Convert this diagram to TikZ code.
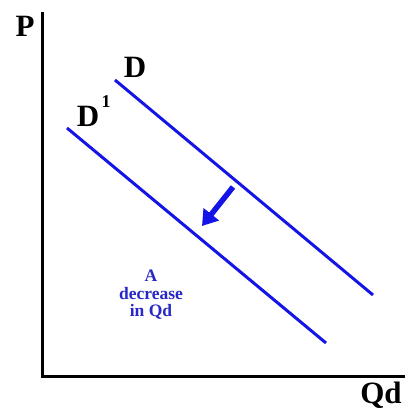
\documentclass[tikz,border=0pt]{standalone}
\usepackage{fontspec}
\setmainfont{Liberation Serif}
\usetikzlibrary{arrows.meta}
\definecolor{dblue}{RGB}{20,20,230}
\definecolor{tblue}{RGB}{40,40,200}
\begin{document}
\begin{tikzpicture}[x=1pt,y=-1pt,
  axis/.style={line width=3pt,black},
  curve/.style={line width=3pt,dblue},
  biglabel/.style={font=\fontsize{31}{32}\selectfont\bfseries,inner sep=0pt},
  note/.style={font=\fontsize{17.5}{17.5}\selectfont\bfseries,text=tblue,align=center,inner sep=0pt}]
\useasboundingbox[fill=white] (0,0) rectangle (405,409);
\coordinate (top) at (42,12);
\coordinate (origin) at (42,376);
\coordinate (right) at (405,376);
\draw[axis] (top) -- (origin) -- (right);
\node[biglabel] (P) at (25,26) {P};
\node[biglabel] (Qd) at (381,395) {Qd};
\coordinate (d1) at (115,80);
\coordinate (d2) at (373,295);
\coordinate (e1) at (67,128);
\coordinate (e2) at (326,343);
\draw[curve] (d1) -- (d2);
\draw[curve] (e1) -- (e2);
\node[biglabel] (D) at (135,67) {D};
\node[biglabel] (D1) at (88,116) {D};
\node[font=\fontsize{18}{18}\selectfont\bfseries,inner sep=0pt] (one) at (106,102) {1};
\coordinate (a1) at (233,187);
\coordinate (a2) at (202,226);
\draw[line width=5.5pt,dblue,-{Triangle[length=15pt,width=19pt]}] (a1) -- (a2);
\node[note] (txt) at (151,295) {A\\decrease\\in Qd};
\end{tikzpicture}
\end{document}
